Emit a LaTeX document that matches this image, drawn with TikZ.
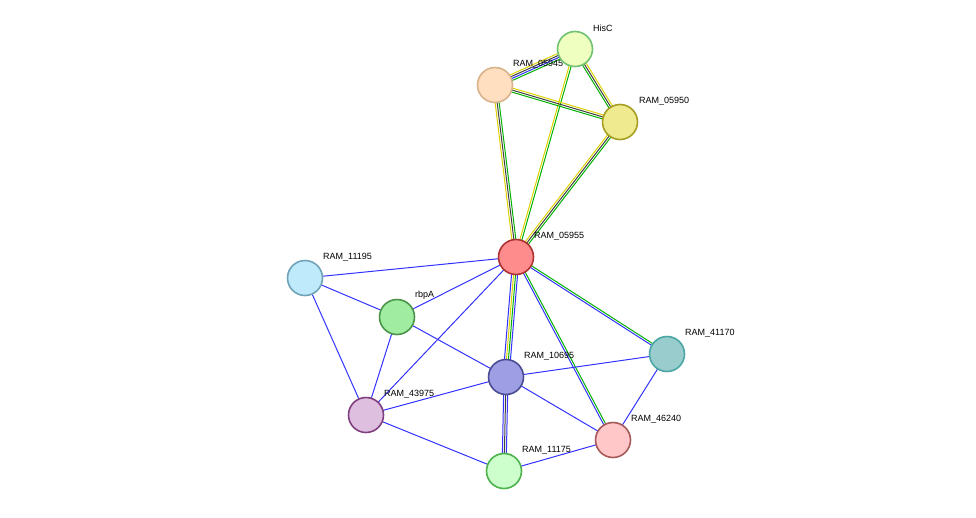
\documentclass[tikz,border=0pt]{standalone}
\usepackage{fontspec}
\setmainfont{Liberation Sans}
\usetikzlibrary{calc}
\begin{document}
\begin{tikzpicture}[x=1pt,y=-1pt,
 nd/.style={circle,minimum size=35pt,inner sep=0pt,line width=1.6pt},
 lb/.style={anchor=west,font=\fontsize{9}{10}\selectfont,inner sep=0pt},
 ed/.style={line width=1pt}]
\useasboundingbox (0,0) rectangle (976,517);
\colorlet{eb}{blue!80!white}
\colorlet{eg}{green!70!black}
\colorlet{ey}{yellow!70!olive}
\colorlet{ek}{black!75}
\newcommand{\medge}[3]{% from, to, list of color/offset
 \foreach \c/\o in {#3}{\draw[ed,\c] ($(#1)!\o pt!90:(#2)$) -- ($(#2)!\o pt!-90:(#1)$);}}
\coordinate (c1) at (516,257);
\coordinate (c2) at (495,85);
\coordinate (c3) at (575,49);
\coordinate (c4) at (620,122);
\coordinate (c5) at (305,278);
\coordinate (c6) at (397,317);
\coordinate (c7) at (667,354);
\coordinate (c8) at (506,377);
\coordinate (c9) at (366,415);
\coordinate (c10) at (613,440);
\coordinate (c11) at (504,471);
% edges
\medge{c1}{c2}{eg/-2,ek/0,ey/2}
\medge{c1}{c3}{eg/-1,ey/1}
\medge{c1}{c4}{eg/-2,ek/0,ey/2}
\medge{c2}{c3}{eg/-3,eb/-1,ek/1,ey/3}
\medge{c2}{c4}{eg/-2,ek/0,ey/2}
\medge{c3}{c4}{eg/-2,ek/0,ey/2}
\medge{c1}{c8}{eb/-3,ey/-1,eg/1,eb/3}
\medge{c1}{c10}{eb/-1,eg/1}
\medge{c1}{c7}{eb/-1,eg/1}
\medge{c8}{c11}{eb/-2,ek/0,eb/2}
\foreach \a/\b in {c1/c5,c1/c6,c1/c9,c5/c6,c5/c9,c6/c9,c6/c8,c8/c9,c8/c7,c8/c10,c9/c11,c11/c10,c7/c10}
 \draw[ed,eb] (\a) -- (\b);
% labels
\node[lb] at (513,64) {RAM\_05945};
% nodes
\node[nd,draw=brown!60!white,fill=orange!25!white] (n2) at (c2) {};
\node[nd,draw=green!40!gray!80,fill=lime!25!white] (n3) at (c3) {};
\node[nd,draw=olive!80,fill=olive!35!yellow!40!white] (n4) at (c4) {};
\node[nd,draw=red!60!black!80,fill=red!45!white] (n1) at (c1) {};
\node[nd,draw=cyan!40!gray,fill=cyan!25!white] (n5) at (c5) {};
\node[nd,draw=green!40!black!70,fill=green!35!white!85!gray] (n6) at (c6) {};
\node[nd,draw=teal!70!white,fill=teal!40!white] (n7) at (c7) {};
\node[nd,draw=blue!40!black!70,fill=blue!35!white!80!gray] (n8) at (c8) {};
\node[nd,draw=violet!50!gray,fill=violet!25!white] (n9) at (c9) {};
\node[nd,draw=red!30!gray,fill=red!22!white] (n10) at (c10) {};
\node[nd,draw=green!40!gray,fill=green!20!white] (n11) at (c11) {};
\node[lb] at (593,28) {HisC};
\node[lb] at (639,101) {RAM\_05950};
\node[lb] at (534,236) {RAM\_05955};
\node[lb] at (323,257) {RAM\_11195};
\node[lb] at (415,295) {rbpA};
\node[lb] at (685,333) {RAM\_41170};
\node[lb] at (524,356) {RAM\_10695};
\node[lb] at (384,394) {RAM\_43975};
\node[lb] at (631,419) {RAM\_46240};
\node[lb] at (522,450) {RAM\_11175};
\end{tikzpicture}
\end{document}
